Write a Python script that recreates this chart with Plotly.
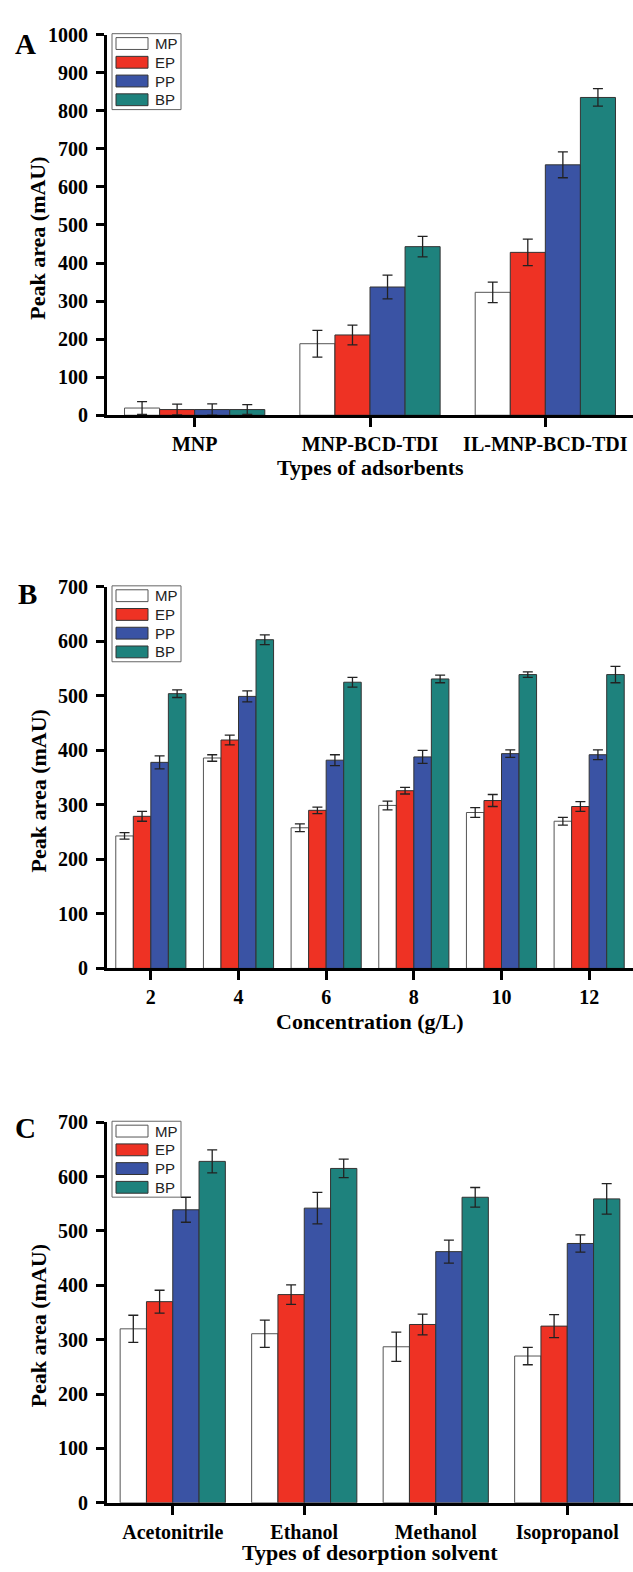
import plotly.graph_objects as go
from plotly.subplots import make_subplots

# ---------------- data ----------------
series_names = ["MP", "EP", "PP", "BP"]
series_colors = ["#FFFFFF", "#EE3224", "#3A53A4", "#1E827D"]
series_edges = ["#555555", "#333333", "#333333", "#333333"]

# Panel A: types of adsorbents
cats_a = ["MNP", "MNP-BCD-TDI", "IL-MNP-BCD-TDI"]
mp_a = [19, 188, 323]
ep_a = [15, 211, 428]
pp_a = [15, 337, 658]
bp_a = [15, 443, 835]
mp_a_err = [17, 35, 27]
ep_a_err = [14, 26, 35]
pp_a_err = [15, 31, 34]
bp_a_err = [13, 27, 23]

# Panel B: concentration (g/L)
cats_b = ["2", "4", "6", "8", "10", "12"]
mp_b = [243, 386, 258, 299, 286, 270]
ep_b = [279, 419, 290, 326, 308, 297]
pp_b = [378, 499, 382, 388, 394, 392]
bp_b = [504, 603, 525, 531, 539, 539]
mp_b_err = [6, 6, 7, 8, 9, 7]
ep_b_err = [9, 9, 6, 6, 11, 9]
pp_b_err = [12, 10, 10, 12, 7, 9]
bp_b_err = [7, 9, 9, 7, 5, 15]

# Panel C: types of desorption solvent
cats_c = ["Acetonitrile", "Ethanol", "Methanol", "Isopropanol"]
mp_c = [320, 311, 287, 270]
ep_c = [370, 383, 328, 325]
pp_c = [539, 542, 462, 477]
bp_c = [628, 615, 562, 559]
mp_c_err = [25, 25, 27, 16]
ep_c_err = [21, 18, 19, 21]
pp_c_err = [23, 29, 21, 16]
bp_c_err = [21, 17, 18, 28]

x_titles = ["Types of adsorbents", "Concentration (g/L)", "Types of desorption solvent"]
y_title = "Peak area (mAU)"
panel_letters = ["A", "B", "C"]
y_max = [1000, 700, 700]

panels = [
    (cats_a, [mp_a, ep_a, pp_a, bp_a], [mp_a_err, ep_a_err, pp_a_err, bp_a_err]),
    (cats_b, [mp_b, ep_b, pp_b, bp_b], [mp_b_err, ep_b_err, pp_b_err, bp_b_err]),
    (cats_c, [mp_c, ep_c, pp_c, bp_c], [mp_c_err, ep_c_err, pp_c_err, bp_c_err]),
]

# ---------------- layout geometry (pixels) ----------------
W, H = 633, 1572
plot_left = 107
plot_tops = [24, 584, 1127]
plot_bottoms = [410, 971, 1513]
xtitle_y = [463, 1025, 1563]
ytitle_x = 38
ytitle_shift = 14

def px(x):
    return x / W

def py(y):
    return 1 - y / H

SERIF = "Liberation Serif, Times New Roman, serif"
SANS = "Liberation Sans, Arial, sans-serif"

fig = make_subplots(rows=3, cols=1)

for r, (cats, vals, errs) in enumerate(panels, start=1):
    for name, color, edge, v, e in zip(series_names, series_colors, series_edges, vals, errs):
        fig.add_trace(
            go.Bar(
                x=cats, y=v, name=name, showlegend=False,
                marker=dict(color=color, line=dict(color=edge, width=1)),
                error_y=dict(type="data", array=e, visible=True,
                             color="#222222", thickness=1.3, width=5),
            ),
            row=r, col=1,
        )

fig.update_layout(
    width=W, height=H,
    margin=dict(l=0, r=0, t=0, b=0),
    paper_bgcolor="white", plot_bgcolor="white",
    barmode="group", bargap=0.2, bargroupgap=0,
)

tick_font = dict(family=SERIF, size=20, color="black", weight="bold")
title_font = dict(family=SERIF, size=22, color="black", weight="bold")

for i in range(3):
    sfx = "" if i == 0 else str(i + 1)
    fig.layout["xaxis" + sfx].update(
        domain=[px(plot_left), 1.0],
        showline=True, linewidth=3, linecolor="black",
        ticks="outside", ticklen=9, tickwidth=3, tickcolor="black",
        tickfont=tick_font, showgrid=False, zeroline=False,
    )
    fig.layout["yaxis" + sfx].update(
        domain=[py(plot_bottoms[i]), py(plot_tops[i])],
        range=[0, y_max[i]], dtick=100, tick0=0,
        showline=True, linewidth=3, linecolor="black",
        ticks="outside", ticklen=8, tickwidth=2.5, tickcolor="black",
        tickfont=tick_font, showgrid=False, zeroline=False,
        ticklabelstandoff=4,
    )
    # axis titles
    fig.add_annotation(
        x=px((plot_left + W) / 2), y=py(xtitle_y[i]), xref="paper", yref="paper",
        text=x_titles[i], showarrow=False, xanchor="center", yanchor="middle",
        font=title_font,
    )
    fig.add_annotation(
        x=px(ytitle_x), y=py((plot_tops[i] + plot_bottoms[i]) / 2 + ytitle_shift),
        xref="paper", yref="paper",
        text=y_title, showarrow=False, textangle=-90,
        xanchor="center", yanchor="middle", font=title_font,
    )

# panel letters
letter_pos = [(25, 33), (27, 591), (25, 1133)]
for letter, (lx, ly) in zip(panel_letters, letter_pos):
    fig.add_annotation(
        x=px(lx), y=py(ly), xref="paper", yref="paper",
        text=letter, showarrow=False, xanchor="center", yanchor="middle",
        font=dict(family=SERIF, size=29, color="black", weight="bold"),
    )

# legends (drawn as boxes beside each panel's y axis)
legend_left, legend_right = 112, 181
row_offsets = [10, 29, 48, 67]
for i in range(3):
    top = plot_tops[i] - 1
    fig.add_shape(
        type="rect", xref="paper", yref="paper",
        x0=px(legend_left), x1=px(legend_right), y0=py(top), y1=py(top + 77),
        line=dict(color="#666666", width=1), fillcolor="white", layer="above",
    )
    for name, color, edge, off in zip(series_names, series_colors, series_edges, row_offsets):
        cy = top + off
        fig.add_shape(
            type="rect", xref="paper", yref="paper",
            x0=px(116), x1=px(148), y0=py(cy - 6), y1=py(cy + 6),
            line=dict(color=edge, width=1), fillcolor=color, layer="above",
        )
        fig.add_annotation(
            x=px(153), y=py(cy), xref="paper", yref="paper",
            text=name, showarrow=False, xanchor="left", yanchor="middle",
            font=dict(family=SANS, size=15, color="#222222"),
        )

fig.write_html(
    "out.html",
    config={"displayModeBar": False},
    post_script="document.body.style.margin='0';document.body.style.overflow='hidden';",
)
